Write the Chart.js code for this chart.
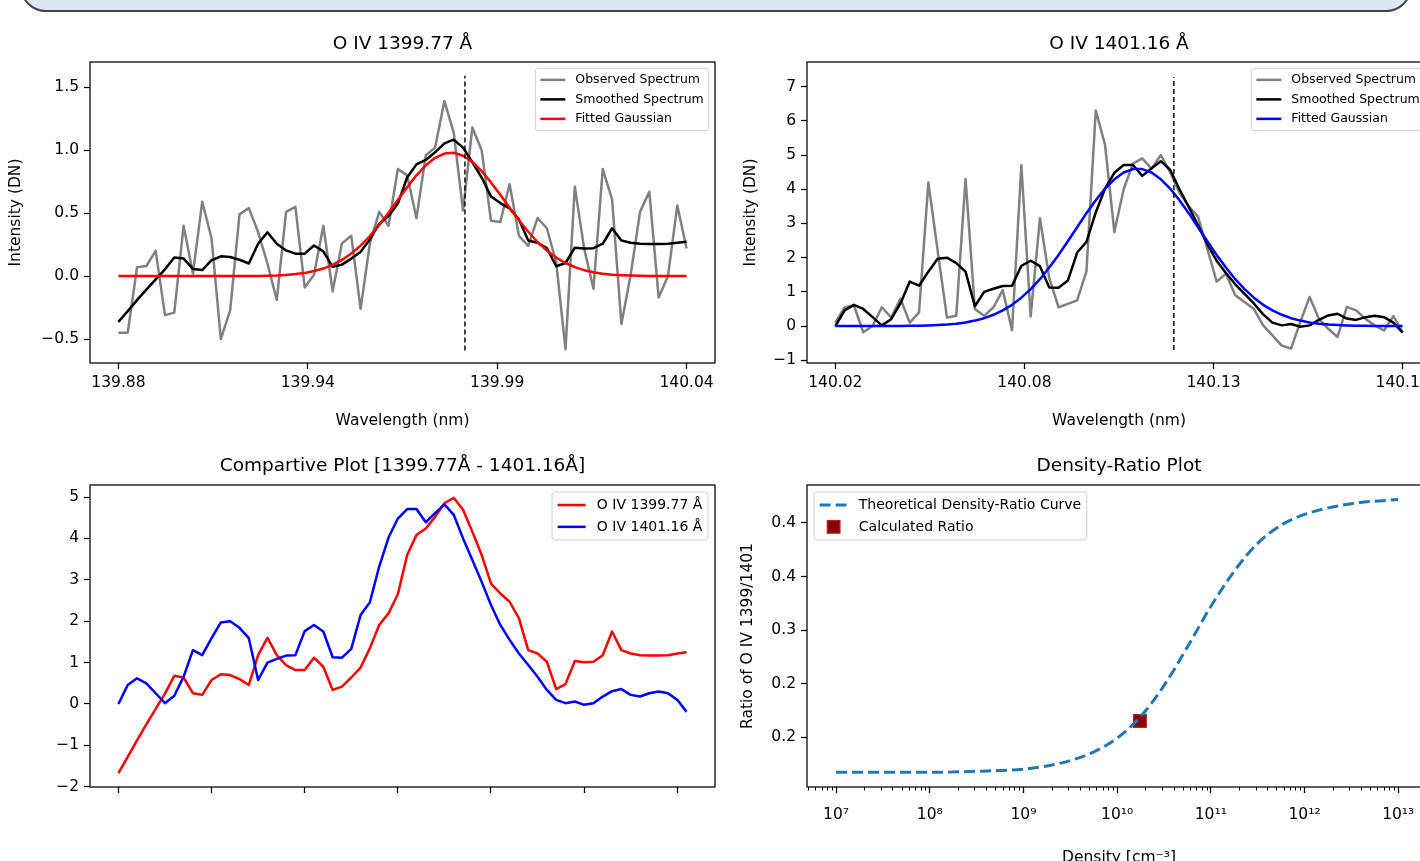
<!DOCTYPE html>
<html>
<head>
<meta charset="utf-8">
<script src="https://cdn.jsdelivr.net/npm/chart.js@4.4.1/dist/chart.umd.min.js"></script>
<style>
  html, body { margin: 0; padding: 0; background: #fff; width: 1420px; height: 861px; overflow: hidden; position: relative; }
  canvas { position: absolute; }
  #frame { position: absolute; left: 20px; top: -40px; width: 1388px; height: 48px; border: 2px solid #3c4654; border-radius: 26px; background: #dde7f1; }
</style>
</head>
<body>
<div id="frame"></div>
<canvas id="tl" width="730" height="420" style="left:0;top:20px"></canvas>
<canvas id="tr" width="720" height="420" style="left:735px;top:20px"></canvas>
<canvas id="bl" width="730" height="421" style="left:0;top:440px"></canvas>
<canvas id="br" width="720" height="440" style="left:735px;top:440px"></canvas>
<script>
// ---- data (x = sample index 0..61) ----
const tlObserved = [-0.45, -0.45, 0.07, 0.08, 0.20, -0.31, -0.29, 0.40, 0.02, 0.59,
  0.30, -0.50, -0.27, 0.49, 0.54, 0.35, 0.10, -0.19, 0.51, 0.55,
  -0.09, 0.01, 0.40, -0.12, 0.26, 0.32, -0.26, 0.26, 0.51, 0.40,
  0.85, 0.80, 0.46, 0.96, 1.02, 1.39, 1.14, 0.52, 1.18, 1.00,
  0.44, 0.43, 0.73, 0.32, 0.24, 0.46, 0.38, 0.11, -0.58, 0.71,
  0.22, -0.10, 0.85, 0.61, -0.38, 0.01, 0.51, 0.67, -0.17, 0.00,
  0.56, 0.22];
const tlSmoothed = [-0.363, -0.278, -0.191, -0.107, -0.026, 0.054, 0.148, 0.139, 0.057, 0.048,
  0.126, 0.157, 0.152, 0.130, 0.100, 0.257, 0.348, 0.257, 0.204, 0.178,
  0.178, 0.243, 0.196, 0.074, 0.091, 0.139, 0.191, 0.293, 0.415, 0.476,
  0.576, 0.783, 0.887, 0.922, 0.983, 1.054, 1.083, 1.020, 0.904, 0.783,
  0.633, 0.580, 0.537, 0.450, 0.283, 0.265, 0.222, 0.078, 0.104, 0.226,
  0.220, 0.222, 0.257, 0.380, 0.283, 0.265, 0.257, 0.254, 0.254, 0.257,
  0.265, 0.272];
const tlGaussian = [0, 0, 0, 0, 0, 0, 0, 0, 0, 0,
  0, 0, 0, 0, 0, 0.001, 0.003, 0.005, 0.009, 0.016,
  0.025, 0.040, 0.060, 0.089, 0.128, 0.179, 0.242, 0.318, 0.406, 0.503,
  0.605, 0.706, 0.800, 0.879, 0.939, 0.973, 0.979, 0.956, 0.906, 0.834,
  0.744, 0.646, 0.543, 0.444, 0.352, 0.271, 0.203, 0.147, 0.104, 0.071,
  0.047, 0.030, 0.019, 0.011, 0.007, 0.004, 0.002, 0.001, 0, 0,
  0, 0];
const tlCentre = 37.2;
const tlLineSpan = [-0.59, 1.59];
const tlXTickLabels = ['139.88', '139.94', '139.99', '140.04'];
const tlYTicks = [-0.5, 0, 0.5, 1.0, 1.5];

const trObserved = [0.10, 0.55, 0.60, -0.18, 0.00, 0.55, 0.25, 0.80, 0.10, 0.40,
  4.20, 2.20, 0.25, 0.30, 4.30, 0.50, 0.30, 0.55, 1.05, -0.12,
  4.70, 0.28, 3.15, 1.40, 0.55, 0.65, 0.75, 1.60, 6.30, 5.30,
  2.75, 4.00, 4.75, 4.90, 4.60, 5.00, 4.50, 3.90, 3.50, 3.20,
  2.26, 1.30, 1.53, 0.90, 0.70, 0.50, 0.02, -0.27, -0.57, -0.66,
  0.12, 0.85, 0.21, -0.08, -0.32, 0.56, 0.46, 0.21, 0.02, -0.13,
  0.29, -0.18];
const trSmoothed = [0.00, 0.46, 0.62, 0.50, 0.26, 0.02, 0.20, 0.66, 1.30, 1.18,
  1.59, 1.97, 2.00, 1.84, 1.59, 0.58, 1.00, 1.09, 1.17, 1.18,
  1.76, 1.91, 1.75, 1.13, 1.12, 1.33, 2.15, 2.46, 3.32, 4.02,
  4.48, 4.71, 4.71, 4.39, 4.61, 4.82, 4.57, 4.00, 3.48, 2.95,
  2.39, 1.91, 1.55, 1.22, 0.94, 0.66, 0.34, 0.10, 0.02, 0.06,
  -0.02, 0.02, 0.18, 0.31, 0.36, 0.22, 0.18, 0.26, 0.30, 0.26,
  0.10, -0.19];
const trGaussian = [0, 0, 0, 0, 0, 0.001, 0.002, 0.004, 0.006, 0.011,
  0.018, 0.029, 0.045, 0.070, 0.107, 0.16, 0.23, 0.33, 0.46, 0.62,
  0.83, 1.08, 1.37, 1.71, 2.08, 2.48, 2.89, 3.30, 3.68, 4.02,
  4.29, 4.49, 4.59, 4.59, 4.49, 4.29, 4.02, 3.68, 3.30, 2.89,
  2.48, 2.08, 1.71, 1.37, 1.08, 0.83, 0.62, 0.46, 0.33, 0.23,
  0.16, 0.107, 0.070, 0.045, 0.029, 0.018, 0.011, 0.006, 0.004, 0.002,
  0.001, 0];
const trCentre = 36.4;
const trLineSpan = [-0.70, 7.28];
const trXTickLabels = ['140.02', '140.08', '140.13', '140.18'];
const trYTicks = [-1, 0, 1, 2, 3, 4, 5, 6, 7];

// comparative plot: scaled 1399.77 profile, 1401.16 profile is trSmoothed
const blRed = [-1.67, -1.28, -0.88, -0.49, -0.12, 0.25, 0.68, 0.64, 0.26, 0.22,
  0.58, 0.72, 0.70, 0.60, 0.46, 1.18, 1.60, 1.18, 0.94, 0.82,
  0.82, 1.12, 0.90, 0.34, 0.42, 0.64, 0.88, 1.35, 1.91, 2.19,
  2.65, 3.60, 4.08, 4.24, 4.52, 4.85, 4.98, 4.69, 4.16, 3.60,
  2.91, 2.67, 2.47, 2.07, 1.30, 1.22, 1.02, 0.36, 0.48, 1.04,
  1.01, 1.02, 1.18, 1.75, 1.30, 1.22, 1.18, 1.17, 1.17, 1.18,
  1.22, 1.25];
const blXTicks = [0, 10, 20, 30, 40, 50, 60];
const blYTicks = [-2, -1, 0, 1, 2, 3, 4, 5];

const densityGrid = [1e7, 3.16e7, 1e8, 3.16e8, 1e9, 1.78e9, 3.16e9, 5.62e9, 1e10, 1.78e10,
  3.16e10, 5.62e10, 1e11, 1.78e11, 3.16e11, 5.62e11, 1e12, 3.16e12, 1e13];
const ratioCurve = [0.167, 0.167, 0.167, 0.168, 0.170, 0.173, 0.178, 0.186, 0.199, 0.219,
  0.248, 0.284, 0.322, 0.355, 0.381, 0.398, 0.408, 0.418, 0.422];
const calcDensity = 1.75e10;
const calcRatio = 0.215;
const densityTickExp = [7, 8, 9, 10, 11, 12, 13];
const brYTicks = [0.20, 0.25, 0.30, 0.35, 0.40];
const brYTickLabels = ['0.2', '0.2', '0.3', '0.4', '0.4'];

// ---- chart setup ----
Chart.defaults.font.family = '"DejaVu Sans", sans-serif';
Chart.defaults.color = '#000';
Chart.defaults.elements.point.radius = 0;
Chart.defaults.elements.line.borderJoinStyle = 'round';

const LW = 2.5;
const toXY = arr => arr.map((y, i) => ({x: i, y}));
const minus = v => (v < 0 ? '\u2212' : '') + Math.abs(v);
const sup = n => String(n).split('').map(c => '⁰¹²³⁴⁵⁶⁷⁸⁹'[+c]).join('');

function drawLegend(chart, o) {
  const {ctx, chartArea: a} = chart;
  const f = o.fontSize;
  const items = chart.data.datasets.filter(d => d.label);
  ctx.save();
  ctx.font = f + 'px "DejaVu Sans"';
  const textW = Math.max(...items.map(d => ctx.measureText(d.label).width));
  const rowH = 1.06 * f, gap = 0.5 * f, pad = 0.4 * f, hl = 2 * f, htp = 0.8 * f, bap = 0.5 * f;
  const w = pad + hl + htp + textW + pad;
  const h = 2 * pad + items.length * rowH + (items.length - 1) * gap;
  const x = o.corner === 'tl' ? a.left + bap : a.right - bap - w;
  const y = a.top + bap;
  ctx.beginPath();
  if (ctx.roundRect) ctx.roundRect(x, y, w, h, 0.2 * f); else ctx.rect(x, y, w, h);
  ctx.fillStyle = 'rgba(255,255,255,0.8)';
  ctx.fill();
  ctx.strokeStyle = '#d0d0d0';
  ctx.lineWidth = 1;
  ctx.stroke();
  items.forEach((d, k) => {
    const cy = y + pad + k * (rowH + gap) + rowH / 2;
    const hx = x + pad;
    if (d.type === 'scatter') {
      const s = 12.7;
      ctx.fillStyle = d.backgroundColor;
      ctx.fillRect(hx + hl / 2 - s / 2, cy - s / 2, s, s);
      ctx.strokeStyle = d.borderColor;
      ctx.lineWidth = d.borderWidth;
      ctx.strokeRect(hx + hl / 2 - s / 2, cy - s / 2, s, s);
    } else {
      ctx.setLineDash(d.borderDash || []);
      ctx.strokeStyle = d.borderColor;
      ctx.lineWidth = d.borderWidth;
      ctx.beginPath();
      ctx.moveTo(hx, cy);
      ctx.lineTo(hx + hl, cy);
      ctx.stroke();
      ctx.setLineDash([]);
    }
    ctx.fillStyle = '#000';
    ctx.textBaseline = 'middle';
    ctx.textAlign = 'left';
    ctx.fillText(d.label, hx + hl + htp, cy);
  });
  ctx.restore();
}

const mplAxes = {
  id: 'mplAxes',
  afterDatasetsDraw(chart, args, opts) {
    const {ctx, chartArea: a} = chart;
    ctx.save();
    ctx.strokeStyle = '#000';
    if (opts.minorTicks) {
      const s = chart.scales.x;
      ctx.lineWidth = 1;
      for (let e = Math.floor(Math.log10(s.min)); e <= Math.ceil(Math.log10(s.max)); e++) {
        for (let k = 2; k <= 9; k++) {
          const v = k * Math.pow(10, e);
          if (v < s.min || v > s.max) continue;
          const px = Math.round(s.getPixelForValue(v)) + 0.5;
          ctx.beginPath();
          ctx.moveTo(px, a.bottom);
          ctx.lineTo(px, a.bottom + 3.5);
          ctx.stroke();
        }
      }
    }
    ctx.lineWidth = 1.25;
    ctx.strokeRect(a.left, a.top, a.right - a.left, a.bottom - a.top);
    ctx.restore();
    if (opts.legend) drawLegend(chart, opts.legend);
  }
};

const gridStyle = {
  grid: {drawOnChartArea: false, drawTicks: true, tickLength: 6, tickColor: '#000', tickWidth: 1.25},
  border: {display: false}
};
const noPad = s => { s.paddingLeft = 0; s.paddingRight = 0; s.paddingTop = 0; s.paddingBottom = 0; };

function titleOpts(text, top, bottom) {
  return {display: true, text, fullSize: false, color: '#000',
    font: {size: 18.5, weight: 'normal', lineHeight: 1.2}, padding: {top, bottom}};
}

function spectrumChart(id, o) {
  const n = o.observed.length;
  return new Chart(document.getElementById(id), {
    type: 'line',
    data: {
      datasets: [
        {label: 'Observed Spectrum', data: toXY(o.observed), borderColor: 'gray', borderWidth: LW, order: 3},
        {label: 'Smoothed Spectrum', data: toXY(o.smoothed), borderColor: '#000', borderWidth: LW, order: 2},
        {label: 'Fitted Gaussian', data: toXY(o.gaussian), borderColor: o.fitColor, borderWidth: LW, order: 1},
        {data: [{x: o.centre, y: o.lineSpan[0]}, {x: o.centre, y: o.lineSpan[1]}],
          borderColor: '#000', borderWidth: 1.4, borderDash: [5, 3], order: 0}
      ]
    },
    plugins: [mplAxes],
    options: {
      responsive: false, animation: false, devicePixelRatio: 1, events: [],
      layout: {padding: {left: 0, right: o.padRight, top: 0, bottom: 0}},
      plugins: {
        legend: {display: false}, tooltip: {enabled: false},
        title: titleOpts(o.title, 12.9, 6.9),
        mplAxes: {legend: {fontSize: 12.5, corner: 'tr'}}
      },
      scales: {
        x: {type: 'linear', min: -3.05, max: 64.05, ...gridStyle,
          afterBuildTicks: s => { s.ticks = o.xTickLabels.map((_, k) => ({value: k * (n - 1) / (o.xTickLabels.length - 1)})); },
          afterFit: s => { s.height = 77; noPad(s); },
          ticks: {autoSkip: false, maxRotation: 0, padding: 4.7, font: {size: 15.5}, callback: (v, k) => o.xTickLabels[k]},
          title: {display: true, text: 'Wavelength (nm)', font: {size: 15.5}, padding: {top: 0, bottom: 9.7}}},
        y: {min: o.yMin, max: o.yMax, ...gridStyle,
          afterBuildTicks: s => { s.ticks = o.yTicks.map(v => ({value: v})); },
          afterFit: s => { s.width = o.yWidth; noPad(s); },
          ticks: {padding: 5, font: {size: 15.5}, callback: o.yFormat},
          title: {display: true, text: 'Intensity (DN)', font: {size: 15.5}, padding: {top: 6.7, bottom: 0}}}
      }
    }
  });
}

spectrumChart('tl', {
  title: 'O IV 1399.77 Å', observed: tlObserved, smoothed: tlSmoothed, gaussian: tlGaussian,
  fitColor: 'red', centre: tlCentre, lineSpan: tlLineSpan, xTickLabels: tlXTickLabels,
  yTicks: tlYTicks, yMin: -0.69, yMax: 1.70, yWidth: 90, padRight: 15,
  yFormat: v => (v < 0 ? '\u2212' : '') + Math.abs(v).toFixed(1)
});

spectrumChart('tr', {
  title: 'O IV 1401.16 Å', observed: trObserved, smoothed: trSmoothed, gaussian: trGaussian,
  fitColor: 'blue', centre: trCentre, lineSpan: trLineSpan, xTickLabels: trXTickLabels,
  yTicks: trYTicks, yMin: -1.08, yMax: 7.72, yWidth: 72, padRight: 24,
  yFormat: minus
});

new Chart(document.getElementById('bl'), {
  type: 'line',
  data: {
    datasets: [
      {label: 'O IV 1399.77 Å', data: toXY(blRed), borderColor: 'red', borderWidth: LW, order: 2},
      {label: 'O IV 1401.16 Å', data: toXY(trSmoothed), borderColor: 'blue', borderWidth: LW, order: 1}
    ]
  },
  plugins: [mplAxes],
  options: {
    responsive: false, animation: false, devicePixelRatio: 1, events: [],
    layout: {padding: {left: 0, right: 15, top: 0, bottom: 0}},
    plugins: {
      legend: {display: false}, tooltip: {enabled: false},
      title: titleOpts('Compartive Plot [1399.77Å - 1401.16Å]', 14.9, 7.9),
      mplAxes: {legend: {fontSize: 14, corner: 'tr'}}
    },
    scales: {
      x: {type: 'linear', min: -3.05, max: 64.05, ...gridStyle,
        afterBuildTicks: s => { s.ticks = blXTicks.map(v => ({value: v})); },
        afterFit: s => { s.height = 74; noPad(s); },
        ticks: {display: false}},
      y: {min: -2.005, max: 5.29, ...gridStyle,
        afterBuildTicks: s => { s.ticks = blYTicks.map(v => ({value: v})); },
        afterFit: s => { s.width = 90; noPad(s); },
        ticks: {padding: 5, font: {size: 15.5}, callback: minus}}
    }
  }
});

new Chart(document.getElementById('br'), {
  type: 'line',
  data: {
    datasets: [
      {label: 'Theoretical Density-Ratio Curve', data: densityGrid.map((d, i) => ({x: d, y: ratioCurve[i]})),
        borderColor: '#1f77b4', borderWidth: 3, borderDash: [11, 5], cubicInterpolationMode: 'monotone', order: 1},
      {type: 'scatter', label: 'Calculated Ratio', data: [{x: calcDensity, y: calcRatio}],
        pointStyle: 'rect', pointRadius: 9, backgroundColor: '#8b0000', borderColor: '#b22222', borderWidth: 1.2, order: 2}
    ]
  },
  plugins: [mplAxes],
  options: {
    responsive: false, animation: false, devicePixelRatio: 1, events: [],
    layout: {padding: {left: 0, right: 24, top: 0, bottom: 0}},
    plugins: {
      legend: {display: false}, tooltip: {enabled: false},
      title: titleOpts('Density-Ratio Plot', 14.9, 7.9),
      mplAxes: {legend: {fontSize: 14, corner: 'tl'}, minorTicks: true}
    },
    scales: {
      x: {type: 'logarithmic', min: Math.pow(10, 6.69), max: Math.pow(10, 13.35), ...gridStyle,
        afterBuildTicks: s => { s.ticks = densityTickExp.map(e => ({value: Math.pow(10, e), major: true})); },
        afterFit: s => { s.height = 93; noPad(s); },
        ticks: {autoSkip: false, maxRotation: 0, padding: 12.7, font: {size: 15.5}, callback: (v, k) => '10' + sup(densityTickExp[k])},
        title: {display: true, text: 'Density [cm⁻³]', font: {size: 15.5}, padding: {top: 0, bottom: 12.7}}},
      y: {min: 0.1533, max: 0.4355, ...gridStyle,
        afterBuildTicks: s => { s.ticks = brYTicks.map(v => ({value: v})); },
        afterFit: s => { s.width = 72; noPad(s); },
        ticks: {padding: 5, font: {size: 15.5}, callback: (v, k) => brYTickLabels[k]},
        title: {display: true, text: 'Ratio of O IV 1399/1401', font: {size: 15.5}, padding: {top: 3.7, bottom: 0}}}
    }
  }
});
</script>
</body>
</html>
